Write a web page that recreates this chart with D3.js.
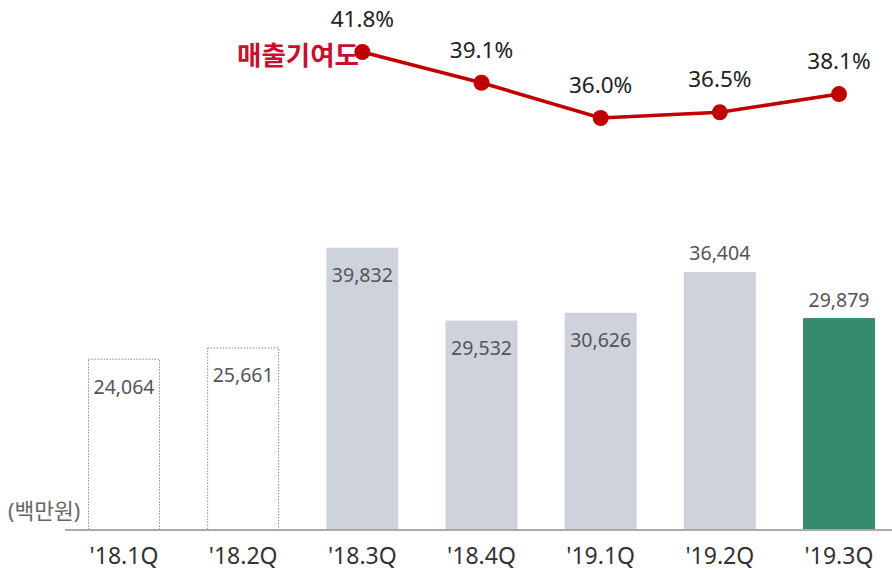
<!DOCTYPE html>
<html>
<head>
<meta charset="utf-8">
<script src="https://cdn.jsdelivr.net/npm/d3@7"></script>
<style>
  body { margin: 0; background: #fff; }
  text { font-family: "Noto Sans", "Noto Sans CJK KR", sans-serif; }
</style>
</head>
<body>
<div id="chart"></div>
<script>
const quarters = ["'18.1Q", "'18.2Q", "'18.3Q", "'18.4Q", "'19.1Q", "'19.2Q", "'19.3Q"];
const sales = [24064, 25661, 39832, 29532, 30626, 36404, 29879];
const shareQuarters = ["'18.3Q", "'18.4Q", "'19.1Q", "'19.2Q", "'19.3Q"];
const share = [41.8, 39.1, 36.0, 36.5, 38.1];

const width = 892;
const height = 570;
const baseY = 529;

const svg = d3.select("#chart")
    .append("svg")
    .attr("width", width)
    .attr("height", height);

const x = d3.scaleBand()
    .domain(quarters)
    .range([64.4, 898.6])
    .paddingInner(0.396)
    .paddingOuter(0.198);

const y = d3.scaleLinear()
    .domain([0, 40000])
    .range([baseY, 246]);

const yLine = d3.scaleLinear()
    .domain([36, 41.8])
    .range([118, 52]);

// bars: first two dotted outlines, last one green
svg.selectAll("rect.bar")
    .data(sales)
    .enter().append("rect")
    .attr("class", "bar")
    .attr("x", (d, i) => x(quarters[i]) + (i < 2 ? 0.5 : 0))
    .attr("y", d => y(d) + 0.5)
    .attr("width", (d, i) => x.bandwidth() - (i < 2 ? 1 : 0))
    .attr("height", d => baseY - y(d))
    .attr("fill", (d, i) => i < 2 ? "none" : (i === 6 ? "#358a6e" : "#cdd2dd"))
    .attr("stroke", (d, i) => i < 2 ? "#8a8a8a" : "none")
    .attr("stroke-width", 1)
    .attr("stroke-dasharray", "1.5,1.5");

// value labels (inside for most, above for last two)
svg.selectAll("text.val")
    .data(sales)
    .enter().append("text")
    .attr("class", "val")
    .attr("x", (d, i) => x(quarters[i]) + x.bandwidth() / 2)
    .attr("y", (d, i) => i < 5 ? y(d) + 35 : y(d) - 11)
    .attr("text-anchor", "middle")
    .style("font-size", "19.5px")
    .style("fill", "#555")
    .text(d => d3.format(",")(d));

// axis baseline
svg.append("line")
    .attr("x1", 65)
    .attr("x2", width)
    .attr("y1", baseY + 1)
    .attr("y2", baseY + 1)
    .attr("stroke", "#aaa")
    .attr("stroke-width", 2);

// x labels
svg.selectAll("text.xlab")
    .data(quarters)
    .enter().append("text")
    .attr("class", "xlab")
    .attr("x", d => x(d) + x.bandwidth() / 2)
    .attr("y", 564)
    .attr("text-anchor", "middle")
    .style("font-size", "23px")
    .style("fill", "#333")
    .text(d => d);

// unit
svg.append("text")
    .attr("x", 8)
    .attr("y", 519)
    .style("font-size", "21.5px")
    .style("fill", "#666")
    .text("(백만원)");

// share line
const line = d3.line()
    .x((d, i) => x(shareQuarters[i]) + x.bandwidth() / 2)
    .y(d => yLine(d));

svg.append("path")
    .datum(share)
    .attr("d", line)
    .attr("fill", "none")
    .attr("stroke", "#c00000")
    .attr("stroke-width", 3.5);

svg.append("text")
    .attr("x", 237)
    .attr("y", 65)
    .style("font-size", "26.5px")
    .style("font-weight", "bold")
    .style("fill", "#c8102e")
    .text("매출기여도");

svg.selectAll("circle.pt")
    .data(share)
    .enter().append("circle")
    .attr("class", "pt")
    .attr("cx", (d, i) => x(shareQuarters[i]) + x.bandwidth() / 2)
    .attr("cy", d => yLine(d))
    .attr("r", 8)
    .attr("fill", "#c00000");

svg.selectAll("text.pct")
    .data(share)
    .enter().append("text")
    .attr("class", "pct")
    .attr("x", (d, i) => x(shareQuarters[i]) + x.bandwidth() / 2)
    .attr("y", d => yLine(d) - 25)
    .attr("text-anchor", "middle")
    .style("font-size", "22.5px")
    .style("fill", "#222")
    .text(d => d.toFixed(1) + "%");
</script>
</body>
</html>
